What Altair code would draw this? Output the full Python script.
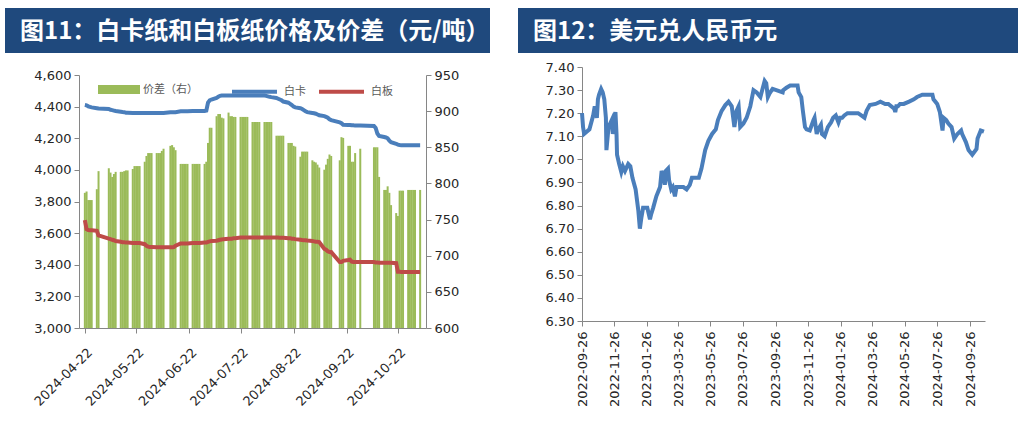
import altair as alt
import pandas as pd

# ---------------- 图11 data ----------------
holidays_2024 = ["2024-05-01", "2024-05-02", "2024-05-03", "2024-06-10", "2024-09-16", "2024-09-17",
                 "2024-10-01", "2024-10-02", "2024-10-03", "2024-10-04", "2024-10-07"]
trade_days = pd.bdate_range("2024-04-22", "2024-11-04", freq="C",
                            holidays=holidays_2024).strftime("%Y-%m-%d").tolist()

spread_apr = [787, 789, 777, 777, 777, 792, 817]
spread_may = [821, 815, 809, 813, 816, 816, 816, 817, 818, 818, 820, 824, 824, 824, 824, 830, 838, 842, 842, 842]
spread_jun = [842, 842, 842, 845, 848, 852, 853, 850, 846, 827, 827, 827, 827, 827, 827, 827, 827, 827, 827]
spread_jul = [827, 830, 856, 877, 877, 893, 896, 896, 891, 890, 898, 893, 893, 892, 892, 892, 892, 892, 892, 892,
              885, 885, 885]
spread_aug = [885, 885, 885, 885, 885, 885, 885, 866, 866, 866, 866, 866, 856, 856, 856, 852, 851, 837, 844, 844,
              844, 844]
spread_sep = [832, 830, 829, 826, 822, 819, 826, 834, 840, 838, 832, 864, 863, 852, 852, 830, 830, 842, 848]
spread_oct = [850, 850, 850, 809, 791, 791, 796, 787, 770, 759, 755, 790, 790, 790, 791, 791, 791, 791]
spread_nov = [791, 791]

baika_apr = [4410, 4408, 4402, 4398, 4395, 4390, 4388]
baika_may = [4385, 4380, 4378, 4375, 4372, 4368, 4366, 4365, 4362, 4362, 4360, 4360, 4360, 4360, 4360, 4360, 4360,
             4360, 4360, 4360]
baika_jun = [4360, 4360, 4360, 4360, 4360, 4365, 4365, 4365, 4365, 4370, 4370, 4370, 4370, 4370, 4372, 4372, 4372,
             4372, 4372]
baika_jul = [4372, 4375, 4425, 4440, 4445, 4455, 4462, 4468, 4470, 4470, 4470, 4470, 4470, 4470, 4470, 4470, 4470,
             4470, 4470, 4470, 4470, 4470, 4470]
baika_aug = [4470, 4470, 4470, 4468, 4465, 4462, 4460, 4455, 4450, 4445, 4440, 4432, 4425, 4418, 4410, 4400, 4395,
             4390, 4385, 4378, 4370, 4365]
baika_sep = [4360, 4358, 4355, 4350, 4345, 4340, 4335, 4330, 4320, 4315, 4300, 4295, 4285, 4284, 4284, 4282, 4282,
             4280, 4280]
baika_oct = [4278, 4265, 4230, 4215, 4208, 4205, 4200, 4185, 4175, 4165, 4160, 4157, 4155, 4155, 4155, 4155, 4155,
             4155]
baika_nov = [4155, 4155]

baiban_apr = [3682, 3625, 3620, 3618, 3618, 3615, 3585]
baiban_may = [3565, 3562, 3558, 3555, 3550, 3545, 3543, 3543, 3540, 3540, 3537, 3537, 3537, 3537, 3537, 3530, 3520,
              3515, 3512, 3512]
baiban_jun = [3510, 3510, 3510, 3510, 3510, 3510, 3510, 3512, 3520, 3535, 3535, 3535, 3535, 3535, 3537, 3537, 3537,
              3537, 3537]
baiban_jul = [3540, 3540, 3545, 3548, 3550, 3552, 3555, 3558, 3560, 3562, 3565, 3565, 3565, 3568, 3568, 3572, 3572,
              3572, 3572, 3572, 3572, 3572, 3572]
baiban_aug = [3572, 3572, 3572, 3572, 3572, 3572, 3572, 3572, 3572, 3570, 3570, 3570, 3568, 3568, 3565, 3565, 3562,
              3558, 3556, 3555, 3555, 3553]
baiban_sep = [3550, 3548, 3546, 3545, 3543, 3500, 3495, 3485, 3480, 3480, 3417, 3417, 3425, 3430, 3432, 3420, 3418,
              3417, 3417]
baiban_oct = [3417, 3415, 3415, 3413, 3412, 3412, 3412, 3412, 3412, 3410, 3355, 3355, 3354, 3354, 3354, 3354, 3354,
              3354]
baiban_nov = [3354, 3354]

spread = spread_apr + spread_may + spread_jun + spread_jul + spread_aug + spread_sep + spread_oct + spread_nov
baika = baika_apr + baika_may + baika_jun + baika_jul + baika_aug + baika_sep + baika_oct + baika_nov
baiban = baiban_apr + baiban_may + baiban_jun + baiban_jul + baiban_aug + baiban_sep + baiban_oct + baiban_nov
assert len(spread) == len(trade_days) == len(baika) == len(baiban), (len(spread), len(trade_days))

left_ticks_x = ["2024-04-22", "2024-05-22", "2024-06-22", "2024-07-22", "2024-08-22", "2024-09-22", "2024-10-22"]
left_ticks_y = [3000, 3200, 3400, 3600, 3800, 4000, 4200, 4400, 4600]
right_ticks_y = [600, 650, 700, 750, 800, 850, 900, 950]

# ---------------- 图12 data ----------------
fx_dates = [
    "2022-09-26", "2022-09-28", "2022-09-30", "2022-10-10", "2022-10-17", "2022-10-20", "2022-10-24",
    "2022-10-26", "2022-10-28", "2022-11-01", "2022-11-04", "2022-11-07", "2022-11-10", "2022-11-11",
    "2022-11-15", "2022-11-21", "2022-11-23", "2022-11-28", "2022-11-30", "2022-12-01", "2022-12-05",
    "2022-12-09", "2022-12-12", "2022-12-16", "2022-12-22", "2022-12-26", "2022-12-30", "2023-01-05",
    "2023-01-10", "2023-01-13", "2023-01-16", "2023-01-19", "2023-01-27", "2023-02-01", "2023-02-03",
    "2023-02-07", "2023-02-13", "2023-02-20", "2023-02-23", "2023-02-27", "2023-03-01", "2023-03-03",
    "2023-03-07", "2023-03-09", "2023-03-13", "2023-03-16", "2023-03-20", "2023-03-23", "2023-03-29",
    "2023-04-05", "2023-04-11", "2023-04-17", "2023-04-21", "2023-04-27", "2023-05-04", "2023-05-09",
    "2023-05-16", "2023-05-22", "2023-05-29", "2023-06-05", "2023-06-09", "2023-06-16", "2023-06-23",
    "2023-06-29", "2023-07-05", "2023-07-10", "2023-07-14", "2023-07-18", "2023-07-21", "2023-07-27",
    "2023-08-02", "2023-08-09", "2023-08-15", "2023-08-21", "2023-08-28", "2023-09-05", "2023-09-08",
    "2023-09-11", "2023-09-14", "2023-09-20", "2023-09-27", "2023-10-09", "2023-10-10", "2023-10-16",
    "2023-10-23", "2023-10-30", "2023-11-06", "2023-11-08", "2023-11-13", "2023-11-16", "2023-11-20",
    "2023-11-23", "2023-11-29", "2023-12-06", "2023-12-08", "2023-12-12", "2023-12-15", "2023-12-20",
    "2023-12-22", "2023-12-27", "2024-01-02", "2024-01-08", "2024-01-12", "2024-01-17", "2024-01-22",
    "2024-01-25", "2024-01-29", "2024-02-02", "2024-02-08", "2024-02-19", "2024-02-28", "2024-03-05",
    "2024-03-11", "2024-03-15", "2024-03-21", "2024-04-01", "2024-04-10", "2024-04-19", "2024-04-25",
    "2024-05-06", "2024-05-08", "2024-05-10", "2024-05-13", "2024-05-17", "2024-05-24", "2024-06-03",
    "2024-06-12", "2024-06-18", "2024-06-28", "2024-07-08", "2024-07-17", "2024-07-19", "2024-07-26",
    "2024-07-31", "2024-08-05", "2024-08-07", "2024-08-12", "2024-08-16", "2024-08-22", "2024-08-27",
    "2024-09-02", "2024-09-09", "2024-09-11", "2024-09-18", "2024-09-23", "2024-09-30", "2024-10-08",
    "2024-10-10", "2024-10-16", "2024-10-22",
]
fx_values = [
    7.20, 7.14, 7.11, 7.13, 7.19, 7.23, 7.18,
    7.26, 7.28, 7.305, 7.29, 7.26, 7.18, 7.04,
    7.14, 7.17, 7.11, 7.205, 7.11, 7.02, 6.98,
    6.945, 6.97, 6.95, 6.98, 6.97, 6.92, 6.87,
    6.78, 6.70, 6.75, 6.79, 6.79, 6.74, 6.76,
    6.79, 6.84, 6.88, 6.95, 6.92, 6.89, 6.95,
    6.96, 6.91, 6.87, 6.88, 6.84, 6.88, 6.88,
    6.88, 6.87, 6.89, 6.92, 6.92, 6.92, 6.96,
    7.04, 7.08, 7.11, 7.13, 7.17, 7.21, 7.235,
    7.25, 7.23, 7.14, 7.21, 7.23, 7.14, 7.155,
    7.18, 7.23, 7.30, 7.29, 7.27, 7.34, 7.33,
    7.27, 7.285, 7.305, 7.30, 7.29, 7.30, 7.31,
    7.32, 7.32, 7.32, 7.29, 7.27, 7.21, 7.14,
    7.13, 7.125, 7.17, 7.18, 7.11, 7.13, 7.15,
    7.11, 7.10, 7.14, 7.16, 7.18, 7.19, 7.16,
    7.18, 7.18, 7.19, 7.20, 7.20, 7.20, 7.19,
    7.18, 7.21, 7.235, 7.24, 7.25, 7.24, 7.24,
    7.22, 7.205, 7.23, 7.23, 7.24, 7.24, 7.25,
    7.26, 7.27, 7.28, 7.28, 7.28, 7.26, 7.24,
    7.205, 7.125, 7.18, 7.17, 7.155, 7.14, 7.09,
    7.11, 7.125, 7.11, 7.075, 7.04, 7.02, 7.045,
    7.09, 7.125, 7.12,
]
assert len(fx_dates) == len(fx_values), (len(fx_dates), len(fx_values))

fx_ticks_x = ["2022-09-26", "2022-11-26", "2023-01-26", "2023-03-26", "2023-05-26", "2023-07-26",
              "2023-09-26", "2023-11-26", "2024-01-26", "2024-03-26", "2024-05-26", "2024-07-26",
              "2024-09-26"]
fx_ticks_y = [6.30, 6.40, 6.50, 6.60, 6.70, 6.80, 6.90, 7.00, 7.10, 7.20, 7.30, 7.40]

title_left = "图11：白卡纸和白板纸价格及价差（元/吨）"
title_right = "图12：美元兑人民币元"

BANNER = "#1f497d"
GREEN = "#9bbb59"
BLUE = "#4a7ebb"
RED = "#be4b48"
CJK = "Noto Sans CJK SC"
DATE_LABEL = "utcFormat(datum.value, '%Y-%m-%d')"


def dt(s, hours=0):
    y, m, d = (int(p) for p in s.split("-"))
    return alt.DateTime(year=y, month=m, date=d, hours=hours, utc=True)


def banner(title, x0, x1, tx):
    d = pd.DataFrame({"t": [title]})
    rect = alt.Chart(d).mark_rect(color=BANNER).encode(
        x=alt.value(x0), x2=alt.value(x1), y=alt.value(-59), y2=alt.value(-14))
    text = alt.Chart(d).mark_text(align="left", baseline="middle", fontSize=24, fontWeight="bold",
                                  color="white", font=CJK).encode(
        x=alt.value(tx), y=alt.value(-35), text="t:N")
    return rect, text


W1, H1 = 347, 261
W2, H2 = 403, 254

# ---------------- left chart ----------------
bars_df = pd.DataFrame({"date": trade_days, "spread": spread, "s": "价差（右）"})
n = len(trade_days)
lines_df = pd.DataFrame({"date": trade_days + trade_days, "price": baika + baiban,
                         "series": ["白卡"] * n + ["白板"] * n})

x1_scale = alt.Scale(type="utc", domain=[dt("2024-04-21", 12), dt("2024-11-04", 12)])
x1_axis = alt.Axis(values=[dt(s) for s in left_ticks_x], labelExpr=DATE_LABEL,
                   labelAngle=-45, labelAlign="right", labelBaseline="middle",
                   labelOverlap=False, labelPadding=17, labelOffset=5, title=None)

bars = alt.Chart(bars_df).mark_bar(size=2).encode(
    x=alt.X("date:T", scale=x1_scale, axis=x1_axis),
    y=alt.Y("spread:Q", scale=alt.Scale(domain=[600, 950], range=[H1, 8], zero=False, nice=False),
            axis=alt.Axis(orient="right", values=right_ticks_y, format="d", title=None)),
    y2=alt.datum(600),
    fill=alt.Fill("s:N", scale=alt.Scale(domain=["价差（右）"], range=[GREEN]),
                  legend=alt.Legend(title=None, orient="none", legendX=19, legendY=1.5,
                                    symbolType="M-1,-0.214H1V0.214H-1Z", symbolSize=1764,
                                    symbolStrokeWidth=0, labelFontSize=11, labelFont=CJK,
                                    labelColor="#595959", labelOffset=3, padding=0)),
)

lines = alt.Chart(lines_df).mark_line(strokeWidth=4).encode(
    x=alt.X("date:T", scale=x1_scale, axis=x1_axis),
    y=alt.Y("price:Q", scale=alt.Scale(domain=[3000, 4600], range=[H1, 8], zero=False, nice=False),
            axis=alt.Axis(orient="left", values=left_ticks_y, format=",.0f", title=None)),
    color=alt.Color("series:N", scale=alt.Scale(domain=["白卡", "白板"], range=[BLUE, RED]),
                    legend=alt.Legend(title=None, orient="none", legendX=151, legendY=0,
                                      direction="horizontal", symbolType="stroke", symbolSize=2025,
                                      symbolStrokeWidth=4, labelFontSize=11, labelFont=CJK,
                                      labelColor="#595959", labelOffset=5, columnPadding=5,
                                      padding=0)),
)

r1, t1 = banner(title_left, -74, 411, -59)
left = alt.layer(r1, t1, bars, lines).resolve_scale(y="independent").properties(width=W1, height=H1)

# ---------------- right chart ----------------
fx_df = pd.DataFrame({"date": fx_dates, "rate": fx_values})
fx_line = alt.Chart(fx_df).mark_line(strokeWidth=4, color=BLUE).encode(
    x=alt.X("date:T", scale=alt.Scale(type="utc", domain=[dt("2022-09-26"), dt("2024-10-24")]),
            axis=alt.Axis(values=[dt(s) for s in fx_ticks_x], labelExpr=DATE_LABEL,
                          labelAngle=-90, labelOverlap=False, labelPadding=5, title=None)),
    y=alt.Y("rate:Q", scale=alt.Scale(domain=[6.3, 7.4], zero=False, nice=False),
            axis=alt.Axis(values=fx_ticks_y, format=".2f", title=None)),
)
r2, t2 = banner(title_right, -64, 436, -49)
right = alt.layer(r2, t2, fx_line).properties(width=W2, height=H2)

chart = alt.hconcat(left, right, spacing=156, bounds="flush").properties(
    padding={"left": 5, "top": 8, "right": 5, "bottom": 5}, background="white"
).configure_view(stroke=None).configure_axis(
    labelFont="DejaVu Sans", labelFontSize=13, labelColor="#262626", domainColor="#868686",
    tickColor="#868686", tickSize=5, grid=False, labelPadding=3
)

chart.save("out.html", embed_options={"renderer": "svg", "actions": False})
